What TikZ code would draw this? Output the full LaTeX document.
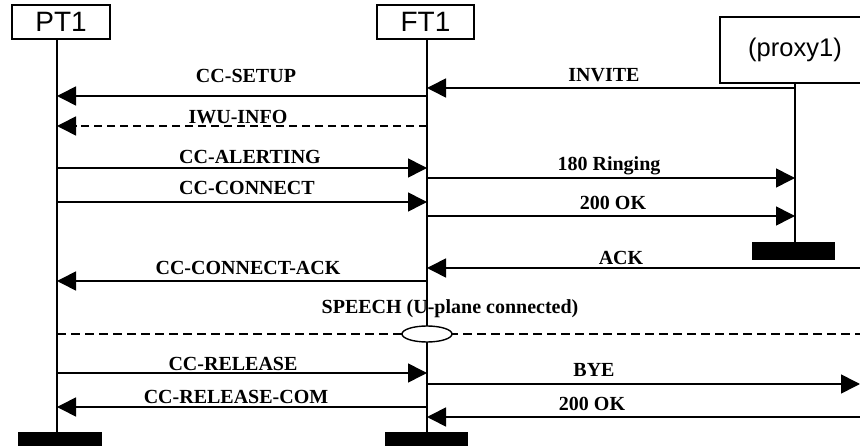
\documentclass[tikz,border=0pt]{standalone}
\usepackage{fontspec}
\setmainfont{Liberation Serif}
\newfontfamily\headfont{Liberation Sans}
\usetikzlibrary{arrows.meta,shapes.geometric}
\begin{document}
\begin{tikzpicture}[x=1pt,y=-1pt,
  head/.style={draw, line width=1.5pt, inner sep=0pt,
    font=\headfont\fontsize{28}{28}\selectfont},
  life/.style={line width=1.6pt},
  msg/.style={line width=1.6pt, -{Triangle[length=19pt,width=19pt]}},
  dmsg/.style={msg, dash pattern=on 8pt off 5pt},
  lbl/.style={inner sep=0pt, font=\bfseries\fontsize{20}{20}\selectfont},
  bar/.style={fill=black, draw=none, inner sep=0pt, minimum height=18pt, anchor=north}]
\useasboundingbox (0,0) rectangle (860,446);
\begin{scope}
\clip (0,0) rectangle (860,446);

% lifeline positions
\coordinate (xp) at (57,0);
\coordinate (xf) at (427,0);
\coordinate (xx) at (795,0);
\coordinate (edge) at (860,0);

% heads
\node[head, minimum width=98pt, minimum height=34pt] (pt1) at (61,22) {PT1};
\node[head, minimum width=97pt, minimum height=34pt] (ft1) at (425.5,22) {FT1};
\node[head, minimum width=150pt, minimum height=66pt,
      font=\headfont\fontsize{25.5}{25.5}\selectfont] (proxy) at (795,50) {(proxy1)};

% end bars
\node[bar, minimum width=84pt] (pt1bar) at (60,432) {};
\node[bar, minimum width=83pt] (ft1bar) at (426.5,432) {};
\node[bar, minimum width=83pt] (proxybar) at (793.5,242) {};

% lifelines
\draw[life] (pt1.south -| xp) -- (pt1bar.north -| xp);
\draw[life] (ft1.south -| xf) -- (ft1bar.north -| xf);
\draw[life] (proxy.south -| xx) -- (proxybar.north -| xx);

% message rows
\foreach \n/\y in {setup/96, iwu/126, invite/88, alert/168, ring/178,
                   conn/202, ok1/216, ack/268, cack/281, rel/373, bye/384,
                   relc/407, ok2/417, sp/334} {
  \coordinate (p-\n) at (xp |- 0,\y);
  \coordinate (f-\n) at (xf |- 0,\y);
  \coordinate (x-\n) at (xx |- 0,\y);
  \coordinate (e-\n) at (edge |- 0,\y);
}

% connection set-up
\draw[msg]  (x-invite) -- (f-invite);
\draw[msg]  (f-setup) -- (p-setup);
\draw[dmsg] (f-iwu) -- (p-iwu);
\draw[msg]  (p-alert) -- (f-alert);
\draw[msg]  (f-ring) -- (x-ring);
\draw[msg]  (p-conn) -- (f-conn);
\draw[msg]  (f-ok1) -- (x-ok1);
\draw[msg]  (e-ack) -- (f-ack);
\draw[msg]  (f-cack) -- (p-cack);

% speech path
\draw[line width=1.2pt, dash pattern=on 9pt off 5pt] (p-sp) -- (e-sp);
\node[ellipse, draw, fill=white, line width=1.4pt, inner sep=0pt,
      minimum width=50pt, minimum height=16pt] (uplane) at (f-sp) {};

% release
\draw[msg] (p-rel) -- (f-rel);
\draw[msg] (f-bye) -- (e-bye);
\draw[msg] (f-relc) -- (p-relc);
\draw[msg] (e-ok2) -- (f-ok2);

% labels
\node[lbl] (l-setup)  at (246,76)  {CC-SETUP};
\node[lbl] (l-iwu)    at (238,117) {IWU-INFO};
\node[lbl] (l-invite) at (604,75)  {INVITE};
\node[lbl] (l-alert)  at (250,157) {CC-ALERTING};
\node[lbl] (l-ring)   at (609,166) {180 Ringing};
\node[lbl] (l-conn)   at (247,188) {CC-CONNECT};
\node[lbl] (l-ok1)    at (613,203) {200 OK};
\node[lbl] (l-ack)    at (621,258) {ACK};
\node[lbl] (l-cack)   at (248,268) {CC-CONNECT-ACK};
\node[lbl] (l-sp)     at (450,309) {SPEECH (U-plane connected)};
\node[lbl] (l-rel)    at (233,364) {CC-RELEASE};
\node[lbl] (l-bye)    at (594,370) {BYE};
\node[lbl] (l-relc)   at (236,397) {CC-RELEASE-COM};
\node[lbl] (l-ok2)    at (592,404) {200 OK};
\end{scope}
\end{tikzpicture}
\end{document}
